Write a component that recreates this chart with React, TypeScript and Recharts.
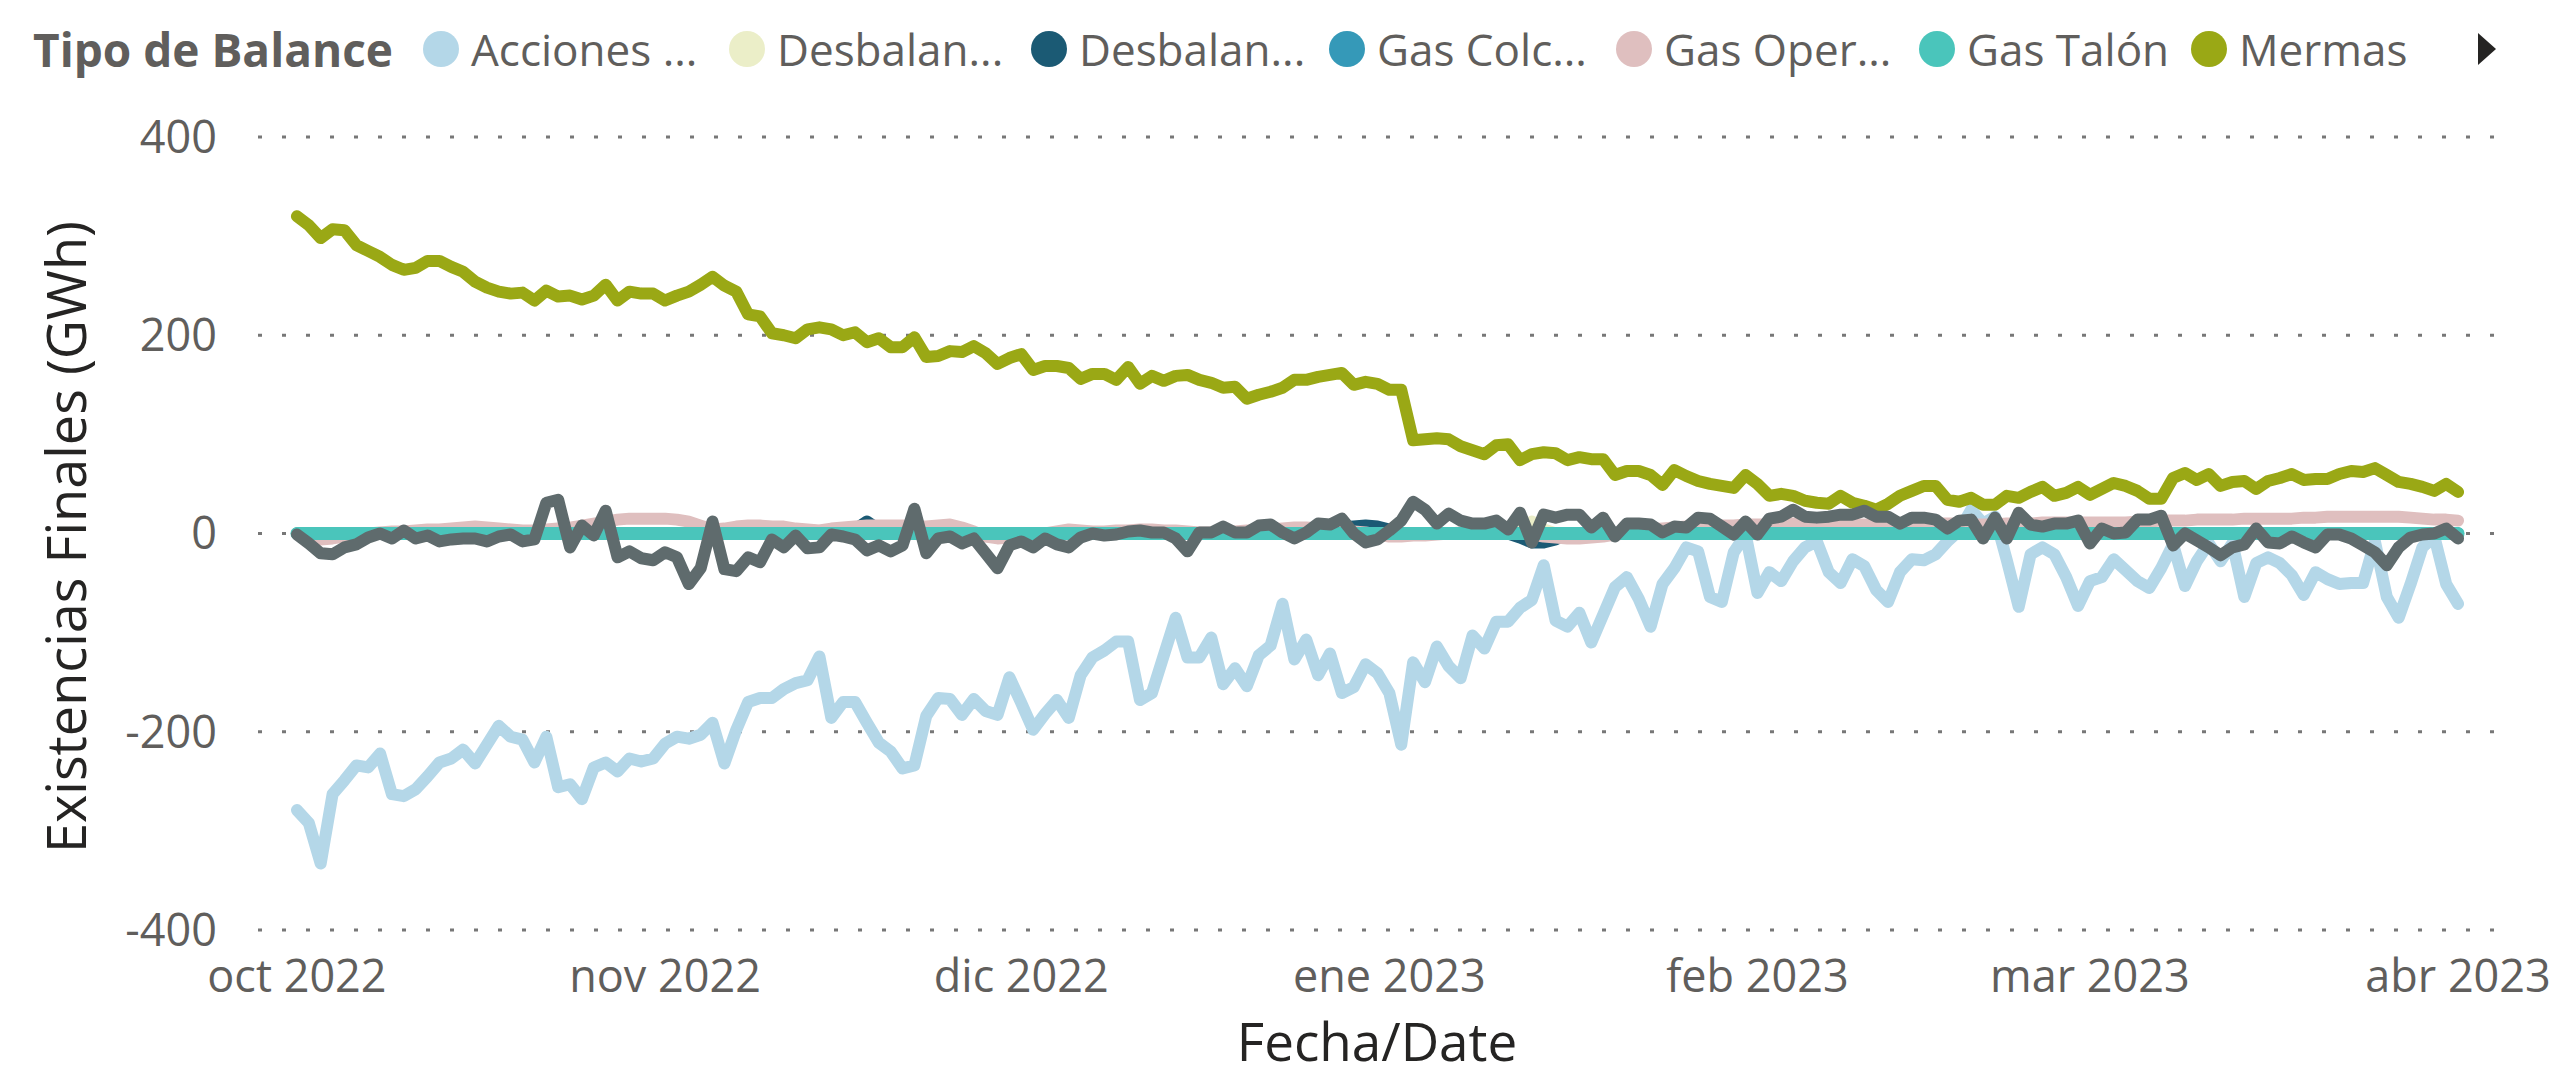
import { LineChart, Line, XAxis, YAxis, CartesianGrid } from 'recharts'

// one value per day, 1 oct 2022 .. 1 abr 2023 (183 days)
const acciones = [
  -279, -292, -333, -263, -249, -234, -236, -222, -263, -265,
  -258, -245, -231, -227, -218, -232, -213, -194, -205, -208,
  -231, -205, -256, -253, -268, -236, -231, -240, -227, -230,
  -227, -212, -205, -207, -203, -191, -232, -198, -170, -166,
  -166, -157, -151, -148, -124, -186, -170, -170, -191, -211,
  -220, -237, -234, -184, -166, -167, -183, -167, -179, -183,
  -145, -171, -198, -182, -168, -186, -143, -125, -118, -109,
  -109, -168, -161, -123, -85, -125, -125, -105, -152, -136,
  -154, -123, -113, -71, -127, -107, -143, -121, -161, -155,
  -132, -141, -161, -213, -130, -150, -114, -134, -146, -103,
  -116, -89, -89, -75, -67, -32, -88, -94, -80, -110,
  -82, -54, -44, -66, -94, -51, -35, -14, -18, -64,
  -69, -19, -1, -60, -39, -48, -28, -14, -8, -39,
  -50, -26, -33, -57, -69, -39, -26, -27, -21, -8,
  3, 24, 10, 17, -27, -74, -21, -14, -21, -44,
  -73, -48, -44, -26, -37, -48, -55, -35, -11, -53,
  -28, -10, -28, -10, -64, -30, -24, -30, -42, -62,
  -39, -46, -51, -50, -50, -8, -64, -85, -51, -14,
  -3, -51, -71,
]

const desbalanceA = [
  0, 0, 0, 0, 0, 0, 0, 0, 0, 0,
  0, 0, 0, 0, 0, 0, 0, 0, 0, 0,
  0, 0, 0, 0, 0, 0, 0, 0, 0, 0,
  0, 0, 0, 0, 0, 0, 0, 0, 0, 0,
  0, 0, 0, 0, 0, 0, 0, 0, 0, 0,
  0, 0, 0, 0, 0, 0, 0, 0, 0, 0,
  0, 0, 0, 0, 0, 0, 0, 0, 0, 0,
  0, 0, 0, 0, 0, 0, 0, 0, 0, 0,
  0, 0, 0, 0, 0, 0, 0, 0, 0, 0,
  0, 0, 0, 0, 0, 0, 0, 0, 0, 0,
  0, 0, 0, 4, 12, 4, 0, 0, 0, 0,
  0, 0, 0, 0, 0, 0, 0, 0, 0, 0,
  0, 0, 0, 0, 0, 0, 0, 0, 0, 0,
  0, 0, 0, 0, 0, 0, 0, 0, 0, 0,
  0, 0, 0, 0, 0, 0, 0, 0, 0, 0,
  0, 0, 0, 0, 0, 0, 0, 0, 0, 0,
  0, 0, 0, 0, 0, 0, 0, 0, 0, 0,
  0, 0, 0, 0, 0, 0, 0, 0, 0, 0,
  0, 0, 0,
]

const desbalanceB = [
  0, 0, 0, 0, 0, 0, 0, 0, 0, 0,
  0, 0, 0, 0, 0, 0, 0, 0, 0, 0,
  0, 0, 0, 0, 0, 0, 0, 0, 0, 0,
  0, 0, 0, 0, 0, 0, 0, 0, 0, 0,
  0, 0, 0, 0, 0, 0, 0, 4, 12, 4,
  0, 0, 0, 0, 0, 0, 0, 0, 0, 0,
  0, 0, 0, 0, 0, 0, 0, 0, 0, 0,
  0, 0, 0, 0, 0, 0, 0, 0, 0, 0,
  0, 0, 0, 0, 0, 0, 0, 0, 6, 7,
  8, 7, 4, 0, 0, 0, 0, 0, 0, 0,
  0, 0, 0, -4, -9, -9, -6, 0, 0, 0,
  0, 0, 0, 0, 0, 0, 0, 0, 0, 0,
  0, 0, 0, 0, 0, 0, 0, 0, 0, 0,
  0, 0, 0, 0, 0, 0, 0, 0, 0, 0,
  0, 0, 0, 0, 0, 0, 0, 0, 0, 0,
  0, 0, 0, 0, 0, 0, 0, 0, 0, 0,
  0, 0, 0, 0, 0, 0, 0, 0, 0, 0,
  0, 0, 0, 0, 0, 0, 0, 0, 0, 0,
  0, 0, 0,
]

const gasColchon = [
  0, 0, 0, 0, 0, 0, 0, 0, 0, 0,
  0, 0, 0, 0, 0, 0, 0, 0, 0, 0,
  0, 0, 0, 0, 0, 0, 0, 0, 0, 0,
  0, 0, 0, 0, 0, 0, 0, 0, 0, 0,
  0, 0, 0, 0, 0, 0, 0, 0, 0, 0,
  0, 0, 0, 0, 0, 0, 0, 0, 0, 0,
  0, 0, 0, 0, 0, 0, 0, 0, 0, 0,
  0, 0, 0, 0, 0, 0, 0, 0, 0, 0,
  0, 0, 0, 0, 0, 0, 0, 0, 0, 0,
  0, 0, 0, 0, 0, 0, 0, 0, 0, 0,
  0, 0, 0, 0, 0, 0, 0, 0, 0, 0,
  0, 0, 0, 0, 0, 0, 0, 0, 0, 0,
  0, 0, 0, 0, 0, 0, 0, 0, 0, 0,
  0, 0, 0, 0, 0, 0, 0, 0, 0, 0,
  0, 0, 0, 0, 0, 0, 0, 0, 0, 0,
  0, 0, 0, 0, 0, 0, 0, 0, 0, 0,
  0, 0, 0, 0, 0, 0, 0, 0, 0, 0,
  0, 0, 0, 0, 0, 0, 0, 0, 0, 0,
  0, 0, 0,
]

const gasOperacion = [
  0, -3, -6, -5, -3, -2, 0, 1, 2, 2,
  3, 4, 4, 5, 6, 7, 6, 5, 4, 3,
  3, 4, 5, 6, 8, 10, 12, 14, 15, 15,
  15, 15, 14, 12, 8, 4, 5, 7, 8, 8,
  7, 7, 5, 4, 3, 5, 6, 7, 8, 8,
  8, 8, 7, 7, 8, 9, 6, 2, -3, -5,
  -4, -2, -1, 0, 2, 4, 3, 2, 2, 3,
  3, 4, 4, 3, 3, 2, 1, 1, 2, 2,
  3, 3, 4, 5, 6, 6, 5, 4, 3, 2,
  1, -1, -3, -3, -2, -2, -1, 0, 1, 1,
  2, 2, 1, 0, -1, -3, -4, -5, -5, -4,
  -3, -1, 0, 2, 4, 5, 6, 7, 7, 8,
  8, 8, 9, 9, 9, 10, 10, 10, 10, 10,
  10, 9, 9, 8, 8, 8, 9, 9, 10, 10,
  10, 9, 9, 9, 10, 10, 10, 11, 11, 11,
  11, 11, 11, 11, 11, 12, 12, 13, 13, 13,
  14, 14, 14, 14, 15, 15, 15, 15, 15, 16,
  16, 17, 17, 17, 17, 17, 17, 17, 16, 15,
  14, 14, 13,
]

const gasTalon = [
  0, 0, 0, 0, 0, 0, 0, 0, 0, 0,
  0, 0, 0, 0, 0, 0, 0, 0, 0, 0,
  0, 0, 0, 0, 0, 0, 0, 0, 0, 0,
  0, 0, 0, 0, 0, 0, 0, 0, 0, 0,
  0, 0, 0, 0, 0, 0, 0, 0, 0, 0,
  0, 0, 0, 0, 0, 0, 0, 0, 0, 0,
  0, 0, 0, 0, 0, 0, 0, 0, 0, 0,
  0, 0, 0, 0, 0, 0, 0, 0, 0, 0,
  0, 0, 0, 0, 0, 0, 0, 0, 0, 0,
  0, 0, 0, 0, 0, 0, 0, 0, 0, 0,
  0, 0, 0, 0, 0, 0, 0, 0, 0, 0,
  0, 0, 0, 0, 0, 0, 0, 0, 0, 0,
  0, 0, 0, 0, 0, 0, 0, 0, 0, 0,
  0, 0, 0, 0, 0, 0, 0, 0, 0, 0,
  0, 0, 0, 0, 0, 0, 0, 0, 0, 0,
  0, 0, 0, 0, 0, 0, 0, 0, 0, 0,
  0, 0, 0, 0, 0, 0, 0, 0, 0, 0,
  0, 0, 0, 0, 0, 0, 0, 0, 0, 0,
  0, 0, 0,
]

const mermas = [
  320, 311, 298, 307, 306, 291, 285, 279, 271, 266,
  268, 275, 275, 269, 264, 254, 248, 244, 242, 243,
  235, 245, 239, 240, 236, 240, 251, 235, 244, 242,
  242, 235, 240, 244, 251, 259, 250, 244, 221, 219,
  202, 200, 197, 206, 208, 206, 200, 203, 193, 197,
  188, 188, 198, 178, 179, 184, 183, 189, 182, 171,
  177, 181, 165, 169, 169, 167, 156, 161, 161, 155,
  168, 151, 159, 154, 159, 160, 155, 152, 147, 148,
  136, 140, 143, 147, 155, 155, 158, 160, 162, 150,
  153, 151, 145, 145, 94, 95, 96, 95, 88, 84,
  80, 89, 90, 74, 80, 82, 81, 74, 77, 75,
  75, 59, 63, 63, 59, 49, 64, 58, 53, 50,
  48, 46, 59, 50, 38, 40, 38, 33, 31, 30,
  38, 31, 28, 24, 30, 38, 43, 48, 48, 34,
  32, 36, 29, 29, 38, 36, 42, 47, 38, 41,
  47, 39, 45, 51, 48, 43, 35, 35, 56, 61,
  54, 60, 48, 52, 53, 45, 53, 56, 60, 54,
  55, 55, 60, 63, 62, 66, 59, 52, 50, 47,
  43, 50, 42,
]

// series beyond the legend scroll arrow
const otros = [
  -1, -10, -20, -21, -14, -11, -4, 0, -5, 3,
  -5, -2, -8, -6, -5, -5, -8, -3, -1, -8,
  -6, 31, 34, -14, 8, -2, 23, -24, -18, -25,
  -27, -19, -24, -51, -35, 12, -36, -38, -24, -29,
  -6, -14, -2, -15, -14, -1, -3, -6, -17, -12,
  -18, -12, 25, -20, -5, -3, -10, -5, -20, -35,
  -12, -8, -14, -5, -11, -14, -4, 0, -2, -1,
  2, 3, 1, 1, -5, -18, 1, 1, 7, 1,
  1, 8, 9, 1, -5, 1, 10, 9, 15, 0,
  -9, -6, 3, 13, 32, 24, 10, 20, 13, 10,
  10, 13, 4, 21, -9, 19, 16, 19, 19, 6,
  16, -3, 10, 10, 9, 1, 7, 6, 16, 15,
  7, -1, 12, -1, 15, 17, 24, 17, 16, 17,
  19, 19, 23, 17, 17, 10, 16, 16, 14, 5,
  13, 14, -5, 16, -5, 21, 9, 7, 10, 10,
  13, -10, 5, 0, 1, 14, 14, 18, -12, 0,
  -7, -14, -22, -14, -11, 5, -9, -10, -3, -9,
  -14, -1, -1, -5, -12, -19, -32, -14, -4, -1,
  0, 5, -5,
]

const monthTicks = [0, 31, 61, 92, 123, 151, 182]
const monthLabels = ['oct 2022', 'nov 2022', 'dic 2022', 'ene 2023', 'feb 2023', 'mar 2023', 'abr 2023']
const yTicks = [-400, -200, 0, 200, 400]

const legendTitle = 'Tipo de Balance'
const legendNames = ['Acciones ...', 'Desbalan...', 'Desbalan...', 'Gas Colc...', 'Gas Oper...', 'Gas Talón', 'Mermas']
const legendColors = ['#B4D7E8', '#EBEEC8', '#1B5A74', '#3599B8', '#DFBFBF', '#4AC5BB', '#9AA815']
const legendCenters = [441, 747, 1049, 1347, 1634, 1937, 2209]

const rows = acciones.map((v, i) => ({
  d: i,
  acciones: v,
  desbalanceA: desbalanceA[i],
  desbalanceB: desbalanceB[i],
  gasColchon: gasColchon[i],
  gasOperacion: gasOperacion[i],
  gasTalon: gasTalon[i],
  mermas: mermas[i],
  otros: otros[i],
}))

const font = '"Open Sans", "Noto Sans", sans-serif'
const grey = '#605E5C'

export default function App() {
  const line = (key: string, color: string, width = 12) => (
    <Line
      key={key}
      type="linear"
      dataKey={key}
      stroke={color}
      strokeWidth={width}
      strokeLinejoin="round"
      strokeLinecap="round"
      dot={false}
      activeDot={false}
      isAnimationActive={false}
    />
  )

  return (
    <div style={{ position: 'absolute', left: 0, top: 0, width: 2551, height: 1073, background: '#fff', fontFamily: font }}>
      {/* legend */}
      <div style={{ position: 'absolute', left: 33, top: 21, height: 56, lineHeight: '56px', fontSize: 46, fontWeight: 700, color: grey, whiteSpace: 'nowrap' }}>
        {legendTitle}
      </div>
      {legendNames.map((name, i) => (
        <div key={i} style={{ position: 'absolute', left: legendCenters[i] - 18, top: 21, height: 56, display: 'flex', alignItems: 'center', whiteSpace: 'nowrap' }}>
          <span style={{ width: 36, height: 36, borderRadius: '50%', background: legendColors[i], display: 'inline-block' }} />
          <span style={{ marginLeft: 12, fontSize: 44, color: grey, lineHeight: '56px' }}>{name}</span>
        </div>
      ))}
      <svg style={{ position: 'absolute', left: 2478, top: 33 }} width={20} height={32}>
        <polygon points="0,0 18,16 0,32" fill="#252423" />
      </svg>

      {/* axis titles */}
      <div style={{ position: 'absolute', left: 65, top: 537, transform: 'translate(-50%, -50%) rotate(-90deg)', fontSize: 54, lineHeight: '64px', color: '#252423', whiteSpace: 'nowrap' }}>
        Existencias Finales (GWh)
      </div>
      <div style={{ position: 'absolute', left: 1377, top: 1014, height: 54, transform: 'translateX(-50%)', fontSize: 53, lineHeight: '54px', color: '#252423', whiteSpace: 'nowrap' }}>
        Fecha/Date
      </div>

      <LineChart width={2551} height={1073} data={rows} margin={{ top: 137, right: 54, bottom: 83, left: 0 }}>
        <CartesianGrid vertical={false} stroke="#777" strokeWidth={3} strokeDasharray="4 20" />
        <XAxis
          dataKey="d"
          type="number"
          domain={[-3.28, 185.28]}
          ticks={monthTicks}
          tickFormatter={(v: number) => monthLabels[monthTicks.indexOf(v)]}
          interval={0}
          height={60}
          axisLine={false}
          tickLine={false}
          tickSize={0}
          tickMargin={30}
          tick={{ fill: grey, fontSize: 45, fontFamily: font }}
        />
        <YAxis
          type="number"
          domain={[-400, 400]}
          ticks={yTicks}
          interval={0}
          width={258}
          axisLine={false}
          tickLine={false}
          tickSize={0}
          tickMargin={41}
          tick={{ fill: grey, fontSize: 45, fontFamily: font }}
        />
        {line('acciones', legendColors[0])}
        {line('desbalanceA', legendColors[1])}
        {line('desbalanceB', legendColors[2])}
        {line('gasColchon', legendColors[3])}
        {line('gasOperacion', legendColors[4])}
        {line('gasTalon', legendColors[5], 13)}
        {line('mermas', legendColors[6])}
        {line('otros', '#5F6B6D')}
      </LineChart>
    </div>
  )
}
